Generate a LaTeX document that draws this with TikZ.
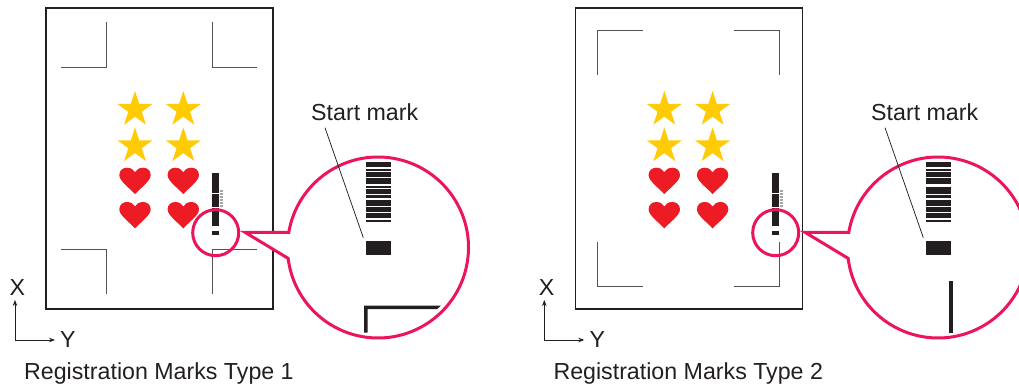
\documentclass[tikz,border=0pt]{standalone}
\usepackage{fontspec}
\setmainfont{Liberation Sans}
\usetikzlibrary{shapes.geometric,arrows.meta}
\definecolor{inkc}{HTML}{231F20}
\definecolor{markc}{HTML}{555354}
\definecolor{pinkc}{HTML}{EC1559}
\definecolor{starc}{HTML}{FFCB05}
\definecolor{heartc}{HTML}{ED1C24}
\tikzset{
  sheet/.style={draw=inkc,line width=1.3pt},
  regmark/.style={draw=markc,line width=0.95pt,line cap=butt,miter limit=10},
  lens/.style={draw=pinkc,line width=3pt},
  lbl/.style={inner sep=0pt,anchor=base west,text=inkc,font=\fontsize{23.2}{27}\selectfont},
  starshape/.style={star,star points=5,star point ratio=2.618,minimum size=37.2pt,inner sep=0pt,outer sep=0pt,fill=starc},
  leader/.style={draw=inkc,line width=0.75pt},
  axisline/.style={draw=inkc,line width=0.8pt,-{Stealth[length=6pt,width=4.5pt]}}
}
\newcommand{\heartat}[2]{\fill[heartc,shift={(#1,#2)}] (0,26.5) .. controls (-4,21.5) and (-15.7,13.5) .. (-15.7,7.5) .. controls (-15.7,2.5) and (-12,0) .. (-8,0) .. controls (-4,0) and (-1.5,2) .. (0,4.5) .. controls (1.5,2) and (4,0) .. (8,0) .. controls (12,0) and (15.7,2.5) .. (15.7,7.5) .. controls (15.7,13.5) and (4,21.5) .. (0,26.5) -- cycle;}
% sheet contents shared: #1 prefix, #2 x shift of sheet
\newcommand{\sheetparts}[2]{%
  \begin{scope}[xshift=#2pt]
    \draw[sheet] (46,8) rectangle (273,309);
    \node[starshape] (#1s1) at (135,109.6) {};
    \node[starshape] (#1s2) at (183.3,109.6) {};
    \node[starshape] (#1s3) at (135,146) {};
    \node[starshape] (#1s4) at (183.3,146) {};
    \heartat{135}{167.7}\heartat{183.3}{167.7}\heartat{135}{202}\heartat{183.3}{202}
    \node[lbl] (#1x) at (9.3,295) {X};
    \node[lbl] (#1y) at (60,347) {Y};
    \coordinate (#1o) at (15,340);
    \coordinate (#1xt) at (15,300);
    \coordinate (#1yt) at (55,340);
    \draw[axisline] (#1o) -- (#1xt);
    \draw[axisline] (#1o) -- (#1yt);
  \end{scope}}
% magnifier: #1 prefix, #2 x shift, #3 list of bars of the magnified mark
\newcommand{\magnifier}[3]{%
  \begin{scope}[xshift=#2pt]
    \fill[inkc] (212,173) rectangle (219,193);
    \fill[inkc] (212,194) rectangle (219,207);
    \fill[inkc] (212,208) rectangle (219,226);
    \fill[inkc] (212,231) rectangle (219,235);
    \draw[gray!70,line width=2.5pt,dash pattern=on 1pt off 0.5pt] (221.5,190) -- (221.5,208);
    \draw[lens] (215.7,232.7) circle[radius=23pt];
    \draw[lens,fill=white,miter limit=10] (378,247.5) ++(189.6:90.5pt) arc[start angle=189.6,end angle=533.1,radius=90.5pt] -- (245,232.3) -- cycle;
    \foreach \a/\b in {#3} {\fill[inkc] (366,\a) rectangle (391,\b);}
    \fill[inkc] (366,241) rectangle (391,254.7);
    \node[lbl] (#1start) at (311,121) {Start mark};
    \coordinate (#1la) at (325,127.7);
    \coordinate (#1lb) at (363.3,237.7);
    \draw[leader] (#1la) -- (#1lb);
  \end{scope}}
\begin{document}
\begin{tikzpicture}[x=1pt,y=1pt,yscale=-1]
\useasboundingbox (0,0) rectangle (1019,387);
\clip (0,0) rectangle (1019,387);
\fill[white] (0,0) rectangle (1019,387);
\sheetparts{a}{0}
\sheetparts{b}{529.3}
% type 1 marks
\draw[regmark] (61,67) -- (106,67) -- (106,22);
\draw[regmark] (257,67) -- (212,67) -- (212,22);
\draw[regmark] (61,249) -- (106,249) -- (106,294);
% type 2 marks
\draw[regmark] (642.7,30) -- (597.3,30) -- (597.3,75);
\draw[regmark] (734,30) -- (779.3,30) -- (779.3,75);
\draw[regmark] (642.7,286.7) -- (597.3,286.7) -- (597.3,241.7);
\draw[regmark] (734,286.7) -- (779.3,286.7) -- (779.3,241.7);
\draw[regmark] (257,249) -- (212,249) -- (212,294);
\magnifier{a}{0}{162.3/167,169.3/171,172/177,178.3/184,186/187.7,189/194,195/198,200/205.7,207/212,213.3/218,220/221.7}
\magnifier{b}{560}{162.3/167,169.3/171,172/177,178.3/184,187/194,195/198,200/205.7,207/212,213.3/218,220/221.7}
% magnified marks
\fill[inkc] (364,332.7) -- (364,305.5) -- (441,305.5) -- (437,309.2) -- (367.6,309.2) -- (367.6,332.7) -- cycle;
\fill[inkc] (949,280.7) rectangle (952.6,333);
\node[lbl] (capa) at (24,379) {Registration Marks Type 1};
\node[lbl] (capb) at (553.3,379) {Registration Marks Type 2};
\end{tikzpicture}
\end{document}
